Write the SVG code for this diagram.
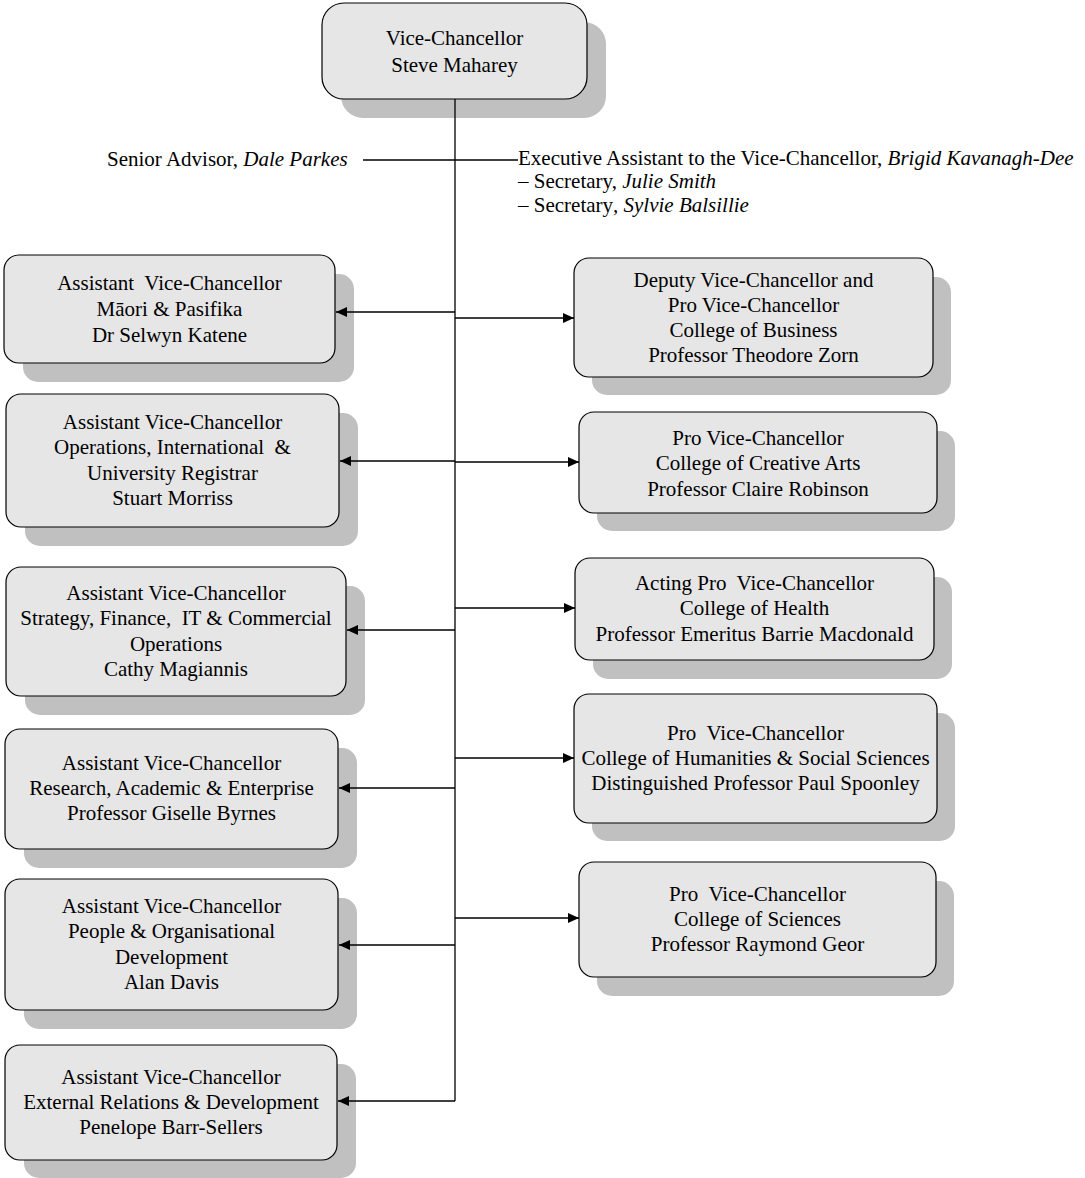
<svg xmlns="http://www.w3.org/2000/svg" width="1085" height="1178" viewBox="0 0 1085 1178" xml:space="preserve">
<style>
text{font-family:"Liberation Serif","Times New Roman",serif;font-size:21px;fill:#000;white-space:pre}
.c{text-anchor:middle}
.box{fill:#e6e6e6;stroke:#000;stroke-width:1.2}
.sh{fill:#c0c0c0}
.ln{stroke:#000;stroke-width:1.3;fill:none}
.ar{stroke:#000;stroke-width:1.3;fill:none;marker-end:url(#ah)}
</style>
<defs>
<marker id="ah" markerUnits="userSpaceOnUse" markerWidth="11" markerHeight="10" refX="11" refY="5" orient="auto">
<path d="M0,0 L11,5 L0,10 z" fill="#000"/>
</marker>
</defs>
<rect width="1085" height="1178" fill="#fff"/>

<g id="vc">
<rect class="sh" x="341" y="22" width="265" height="96" rx="22"/>
<rect class="box" x="322" y="3" width="265" height="96" rx="22"/>
<text class="c" x="454.5" y="45">Vice-Chancellor</text>
<text class="c" x="454.5" y="72">Steve Maharey</text>
</g>

<g id="senior-advisor">
<text x="107" y="166">Senior Advisor, <tspan font-style="italic">Dale Parkes</tspan></text>
</g>

<g id="executive-assistant">
<text x="518" y="165">Executive Assistant to the Vice-Chancellor, <tspan font-style="italic">Brigid Kavanagh-Dee</tspan></text>
<text x="518" y="188">– Secretary, <tspan font-style="italic">Julie Smith</tspan></text>
<text x="518" y="212">– Secretary<tspan font-style="italic">, Sylvie Balsillie</tspan></text>
</g>

<g id="avc-maori">
<rect class="sh" x="23" y="274" width="331" height="108" rx="15"/>
<rect class="box" x="4" y="255" width="331" height="108" rx="15"/>
<text class="c" x="169.5" y="290">Assistant  Vice-Chancellor</text>
<text class="c" x="169.5" y="316">Māori &amp; Pasifika</text>
<text class="c" x="169.5" y="342">Dr Selwyn Katene</text>
</g>

<g id="avc-operations">
<rect class="sh" x="25" y="413" width="333" height="133" rx="15"/>
<rect class="box" x="6" y="394" width="333" height="133" rx="15"/>
<text class="c" x="172.5" y="429">Assistant Vice-Chancellor</text>
<text class="c" x="172.5" y="454">Operations, International  &amp;</text>
<text class="c" x="172.5" y="480">University Registrar</text>
<text class="c" x="172.5" y="505">Stuart Morriss</text>
</g>

<g id="avc-strategy">
<rect class="sh" x="25" y="586" width="340" height="129" rx="15"/>
<rect class="box" x="6" y="567" width="340" height="129" rx="15"/>
<text class="c" x="176" y="600">Assistant Vice-Chancellor</text>
<text class="c" x="176" y="625">Strategy, Finance,  IT &amp; Commercial</text>
<text class="c" x="176" y="651">Operations</text>
<text class="c" x="176" y="676">Cathy Magiannis</text>
</g>

<g id="avc-research">
<rect class="sh" x="24" y="748" width="333" height="120" rx="15"/>
<rect class="box" x="5" y="729" width="333" height="120" rx="15"/>
<text class="c" x="171.5" y="770">Assistant Vice-Chancellor</text>
<text class="c" x="171.5" y="795">Research, Academic &amp; Enterprise</text>
<text class="c" x="171.5" y="820">Professor Giselle Byrnes</text>
</g>

<g id="avc-people">
<rect class="sh" x="24" y="898" width="333" height="131" rx="15"/>
<rect class="box" x="5" y="879" width="333" height="131" rx="15"/>
<text class="c" x="171.5" y="913">Assistant Vice-Chancellor</text>
<text class="c" x="171.5" y="938">People &amp; Organisational</text>
<text class="c" x="171.5" y="964">Development</text>
<text class="c" x="171.5" y="989">Alan Davis</text>
</g>

<g id="avc-external">
<rect class="sh" x="24" y="1064" width="332" height="114" rx="15"/>
<rect class="box" x="5" y="1045" width="332" height="115" rx="15"/>
<text class="c" x="171" y="1084">Assistant Vice-Chancellor</text>
<text class="c" x="171" y="1109">External Relations &amp; Development</text>
<text class="c" x="171" y="1134">Penelope Barr-Sellers</text>
</g>

<g id="dvc-business">
<rect class="sh" x="592" y="277" width="359" height="118" rx="15"/>
<rect class="box" x="574" y="258" width="359" height="119" rx="15"/>
<text class="c" x="753.5" y="287">Deputy Vice-Chancellor and</text>
<text class="c" x="753.5" y="312">Pro Vice-Chancellor</text>
<text class="c" x="753.5" y="337">College of Business</text>
<text class="c" x="753.5" y="362">Professor Theodore Zorn</text>
</g>

<g id="pvc-creative-arts">
<rect class="sh" x="597" y="431" width="358" height="100" rx="15"/>
<rect class="box" x="579" y="412" width="358" height="101" rx="15"/>
<text class="c" x="758" y="445">Pro Vice-Chancellor</text>
<text class="c" x="758" y="470">College of Creative Arts</text>
<text class="c" x="758" y="496">Professor Claire Robinson</text>
</g>

<g id="pvc-health">
<rect class="sh" x="593" y="577" width="359" height="102" rx="15"/>
<rect class="box" x="575" y="558" width="359" height="102" rx="15"/>
<text class="c" x="754.5" y="590">Acting Pro  Vice-Chancellor</text>
<text class="c" x="754.5" y="615">College of Health</text>
<text class="c" x="754.5" y="641">Professor Emeritus Barrie Macdonald</text>
</g>

<g id="pvc-humanities">
<rect class="sh" x="592" y="713" width="363" height="128" rx="15"/>
<rect class="box" x="574" y="694" width="363" height="129" rx="15"/>
<text class="c" x="755.5" y="740">Pro  Vice-Chancellor</text>
<text class="c" x="755.5" y="765">College of Humanities &amp; Social Sciences</text>
<text class="c" x="755.5" y="790">Distinguished Professor Paul Spoonley</text>
</g>

<g id="pvc-sciences">
<rect class="sh" x="597" y="881" width="357" height="115" rx="15"/>
<rect class="box" x="579" y="862" width="357" height="115" rx="15"/>
<text class="c" x="757.5" y="901">Pro  Vice-Chancellor</text>
<text class="c" x="757.5" y="926">College of Sciences</text>
<text class="c" x="757.5" y="951">Professor Raymond Geor</text>
</g>

<g id="connectors">
<line class="ln" x1="455" y1="99" x2="455" y2="1101"/>
<line class="ln" x1="363" y1="160" x2="518" y2="160"/>
<line class="ar" x1="455" y1="312" x2="336" y2="312"/>
<line class="ar" x1="455" y1="461" x2="340" y2="461"/>
<line class="ar" x1="455" y1="630" x2="347" y2="630"/>
<line class="ar" x1="455" y1="788" x2="339" y2="788"/>
<line class="ar" x1="455" y1="945" x2="339" y2="945"/>
<line class="ar" x1="455" y1="1101" x2="338" y2="1101"/>
<line class="ar" x1="455" y1="318" x2="574" y2="318"/>
<line class="ar" x1="455" y1="462" x2="579" y2="462"/>
<line class="ar" x1="455" y1="608" x2="575" y2="608"/>
<line class="ar" x1="455" y1="758" x2="574" y2="758"/>
<line class="ar" x1="455" y1="918" x2="579" y2="918"/>
</g>
</svg>
